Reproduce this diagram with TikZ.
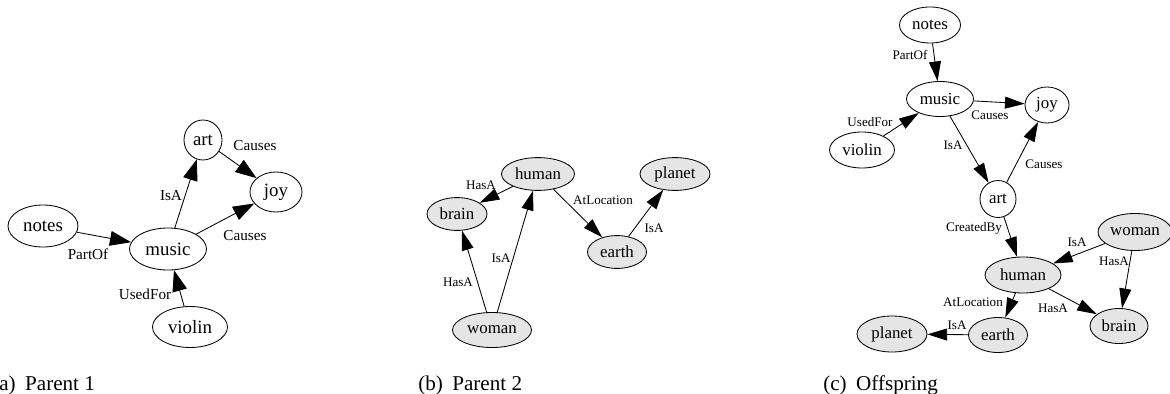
\documentclass[tikz,border=0pt]{standalone}
\usepackage{fontspec}
\setmainfont{Liberation Serif}
\usetikzlibrary{shapes.geometric,arrows.meta}

\begin{document}
\begin{tikzpicture}[x=.025cm,y=-.025cm,
	concept/.style={ellipse,draw,inner sep=0pt,line width=.6pt},
	conA/.style={concept,minimum height=10.5mm,font=\fontsize{13.4}{16}\selectfont},
	conB/.style={concept,fill=gray!20,minimum height=8.2mm,font=\fontsize{12}{14}\selectfont},
	conC/.style={concept,minimum height=9mm,font=\fontsize{12}{14}\selectfont},
	relA/.style={-{Triangle[length=15pt,width=10.5pt]},line width=.6pt},
	rel/.style={-{Triangle[length=14pt,width=8.5pt]},line width=.6pt},
	lblA/.style={font=\fontsize{10.8}{12}\selectfont,inner sep=0pt},
	lbl/.style={font=\fontsize{9.3}{11}\selectfont,inner sep=0pt},
	caption/.style={anchor=base west,inner sep=0pt,font=\fontsize{15}{17}\selectfont}]
					\useasboundingbox (0,0) rectangle (1170,394);
					% parent 1
					\node[conA,minimum width=17.5mm] (notesA) at (43,226) {notes};
					\node[conA,minimum width=19.25mm] (musicA) at (168,249) {music};
					\node[conA,minimum width=18.75mm,minimum height=10.25mm] (violinA) at (190,327) {violin};
					\node[conA,minimum width=9.5mm,minimum height=10mm] (artA) at (203,140) {art};
					\node[conA,minimum width=13mm,minimum height=10mm] (joyA) at (276,192) {joy};
					\draw[relA] (notesA) -- (musicA);
					\draw[relA] (musicA) -- (artA);
					\draw[relA] (musicA) -- (joyA);
					\draw[relA] (artA) -- (joyA);
					\draw[relA] (violinA) -- (musicA);
					\node[lblA] (l1) at (255,146) {Causes};
					\node[lblA] (l2) at (171,196) {IsA};
					\node[lblA] (l3) at (245,236) {Causes};
					\node[lblA] (l4) at (88,254) {PartOf};
					\node[lblA] (l5) at (145,294) {UsedFor};
					\node[caption] (capA) at (-8,390) {(a)\hspace{.45em}Parent 1};
					% parent 2
					\node[conB,minimum width=18.25mm] (humanB) at (538,174) {human};
					\node[conB,minimum width=15mm] (brainB) at (457,214) {brain};
					\node[conB,minimum width=17.5mm] (planetB) at (675,174) {planet};
					\node[conB,minimum width=14.75mm] (earthB) at (617,252) {earth};
					\node[conB,minimum width=19.75mm,minimum height=8.75mm] (womanB) at (492,330) {woman};
					\draw[rel] (humanB) -- (brainB);
					\draw[rel] (humanB) -- (earthB);
					\draw[rel] (earthB) -- (planetB);
					\draw[rel] (womanB) -- (brainB);
					\draw[rel] (womanB) -- (humanB);
					\node[lbl] (l6) at (481,185) {HasA};
					\node[lbl] (l7) at (603,200) {AtLocation};
					\node[lbl] (l8) at (654,228) {IsA};
					\node[lbl] (l9) at (501,258) {IsA};
					\node[lbl] (l10) at (458,282) {HasA};
					\node[caption] (capB) at (418,390) {(b)\hspace{.45em}Parent 2};
					% offspring
					\node[conC,minimum width=15.25mm] (notesC) at (930,25) {notes};
					\node[conC,minimum width=16.75mm,minimum height=8.75mm] (musicC) at (940,99) {music};
					\node[conC,minimum width=11mm] (joyC) at (1047,105) {joy};
					\node[conC,minimum width=16.25mm] (violinC) at (862,150) {violin};
					\node[conC,minimum width=9mm,minimum height=9.25mm] (artC) at (998,199) {art};
					\node[conC,fill=gray!20,minimum width=18.5mm,minimum height=9.25mm] (womanC) at (1135,232) {woman};
					\node[conC,fill=gray!20,minimum width=19mm] (humanC) at (1023,275) {human};
					\node[conC,fill=gray!20,minimum width=14.5mm,minimum height=8.75mm] (brainC) at (1119,326) {brain};
					\node[conC,fill=gray!20,minimum width=17.5mm] (planetC) at (892,334) {planet};
					\node[conC,fill=gray!20,minimum width=14.75mm,minimum height=8.75mm] (earthC) at (998,335) {earth};
					\draw[rel] (notesC) -- (musicC);
					\draw[rel] (violinC) -- (musicC);
					\draw[rel] (musicC) -- (joyC);
					\draw[rel] (musicC) -- (artC);
					\draw[rel] (artC) -- (joyC);
					\draw[rel] (artC) -- (humanC);
					\draw[rel] (womanC) -- (humanC);
					\draw[rel] (womanC) -- (brainC);
					\draw[rel] (humanC) -- (earthC);
					\draw[rel] (humanC) -- (brainC);
					\draw[rel] (earthC) -- (planetC);
					\node[lbl] (l11) at (910,55) {PartOf};
					\node[lbl] (l12) at (870,122) {UsedFor};
					\node[lbl] (l13) at (990,115) {Causes};
					\node[lbl] (l14) at (953,145) {IsA};
					\node[lbl] (l15) at (1044,164) {Causes};
					\node[lbl] (l16) at (974,228) {CreatedBy};
					\node[lbl] (l17) at (1077,242) {IsA};
					\node[lbl] (l18) at (1114,261) {HasA};
					\node[lbl] (l19) at (973,302) {AtLocation};
					\node[lbl] (l20) at (1053,308) {HasA};
					\node[lbl] (l21) at (957,325) {IsA};
					\node[caption] (capC) at (823,390) {(c)\hspace{.45em}Offspring};
				\end{tikzpicture}
\end{document}
